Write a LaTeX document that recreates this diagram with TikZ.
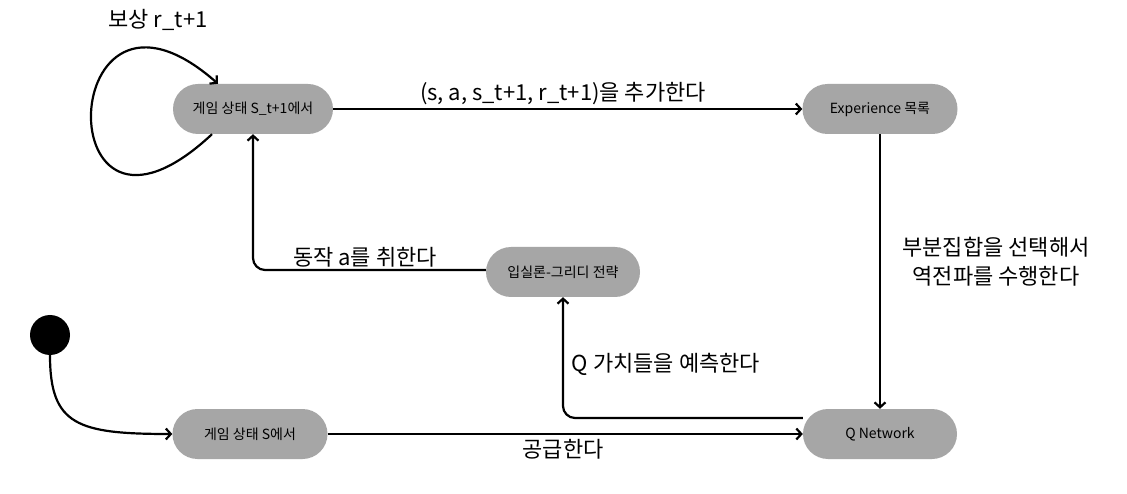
\documentclass[tikz,border=0pt]{standalone}
\usepackage{fontspec}
\setmainfont{Noto Sans CJK KR}
\usetikzlibrary{arrows.meta,positioning,calc}
\definecolor{qlgray}{RGB}{166,166,166}
\definecolor{qldark}{RGB}{0,0,0}
\tikzset{
  ql state/.style={
    draw=none,
    fill=qlgray,
    rounded corners=25pt,
    minimum height=50pt,
    inner sep=0pt,
    font=\fontsize{14}{16}\selectfont,
  },
  ql arrow/.style={
    -{Straight Barb[length=5pt,width=11pt]},
    line width=2.2pt,
    draw=qldark,
  },
  ql label/.style={
    inner sep=0pt,
    align=center,
    font=\fontsize{22}{29}\selectfont,
  },
}

\begin{document}
\begin{tikzpicture}[x=1pt,y=-1pt]
  \path[use as bounding box, fill=white] (0,0) rectangle (1127,494);

  % states
  \node[ql state, minimum width=160pt] (snext) at (253,109) {게임 상태 S\_t+1에서};
  \node[ql state, minimum width=155pt] (exp) at (880,109) {Experience 목록};
  \node[ql state, minimum width=154pt] (eps) at (563,272) {입실론-그리디 전략};
  \node[ql state, minimum width=155pt] (sstart) at (250,434) {게임 상태 S에서};
  \node[ql state, minimum width=154pt] (qnet) at (880,434) {Q Network};
  \node[circle, fill=black, minimum size=40pt, inner sep=0pt] (init) at (50,335) {};

  % transitions
  \draw[ql arrow] (init.south) .. controls ($(init.south)+(0,70)$) and ($(sstart.west)+(-95,0)$) .. (sstart.west);
  \draw[ql arrow] (sstart.east) -- (qnet.west);
  \draw[ql arrow] (exp.south) -- (qnet.north);
  \draw[ql arrow, rounded corners=12pt] ([yshift=16pt]qnet.west) -| (eps.south);
  \draw[ql arrow, rounded corners=12pt] ([yshift=2pt]eps.west) -| (snext.south);
  \draw[ql arrow] (snext.east) -- (exp.west);
  \draw[ql arrow] ([xshift=-41pt]snext.south) .. controls (45,290) and (55,-60) .. ([xshift=-35pt]snext.north);

  % labels
  \node[ql label] (rwd) at (158,20) {보상 r\_t+1};
  \node[ql label] (add) at (563,94) {(s, a, s\_t+1, r\_t+1)을 추가한다};
  \node[ql label] (act) at (365,257) {동작 a를 취한다};
  \node[ql label] (pred) at (666,364) {Q 가치들을 예측한다};
  \node[ql label] (feed) at (563,449) {공급한다};
  \node[ql label] (back) at (996,262) {부분집합을 선택해서\\역전파를 수행한다};
\end{tikzpicture}
\end{document}
